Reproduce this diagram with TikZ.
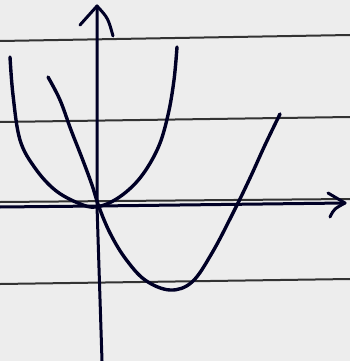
\documentclass[tikz,border=0pt]{standalone}
\usetikzlibrary{calc}

\begin{document}
\begin{tikzpicture}[x=1pt,y=-1pt,line cap=round,line join=round]
  \tikzset{rule/.style={line width=2pt,black!80},
           ink/.style={line width=3.4pt,black!85!blue},
           axis/.style={line width=3pt,black!85!blue}}
  % paper
  \fill[gray!14] (0,0) rectangle (350,361);
  \useasboundingbox (0,0) rectangle (350,361);
  % ruled lines of the paper
  \draw[rule] (0,41) -- (350,35);
  \draw[rule] (0,122) -- (350,117);
  \draw[rule] (0,202) -- (350,199);
  \draw[rule] (0,284) -- (350,279);
  % axes, open hand-drawn heads
  \coordinate (O) at (97,206);
  \coordinate (xend) at (345,203);
  \coordinate (yend) at (97,6);
  \draw[axis] (0,207) -- (O) -- (xend);
  \draw[axis] (102,361) -- (O) -- (yend);
  \draw[axis] (80,25) .. controls (88,15) .. (yend) .. controls (108,18) .. (113,36);
  \draw[axis] (328,193) .. controls (336,198) .. (xend) .. controls (334,209) .. (330,217);
  % first parabola, vertex at the origin
  \draw[ink] plot[smooth,tension=0.6] coordinates {
    (10,57) (13,95) (20,140) (35,168) (55,190) (78,203) (96,207)
    (118,198) (140,178) (158,148) (168,115) (174,80) (177,47)};
  % second parabola, through the origin, vertex below the axis
  \draw[ink] plot[smooth,tension=0.6] coordinates {
    (48,77) (60,100) (71,130) (82,158) (92,185) (99,207)
    (110,233) (125,258) (145,280) (170,290) (192,282)
    (212,253) (233,213) (250,178) (265,145) (280,114)};
\end{tikzpicture}
\end{document}
